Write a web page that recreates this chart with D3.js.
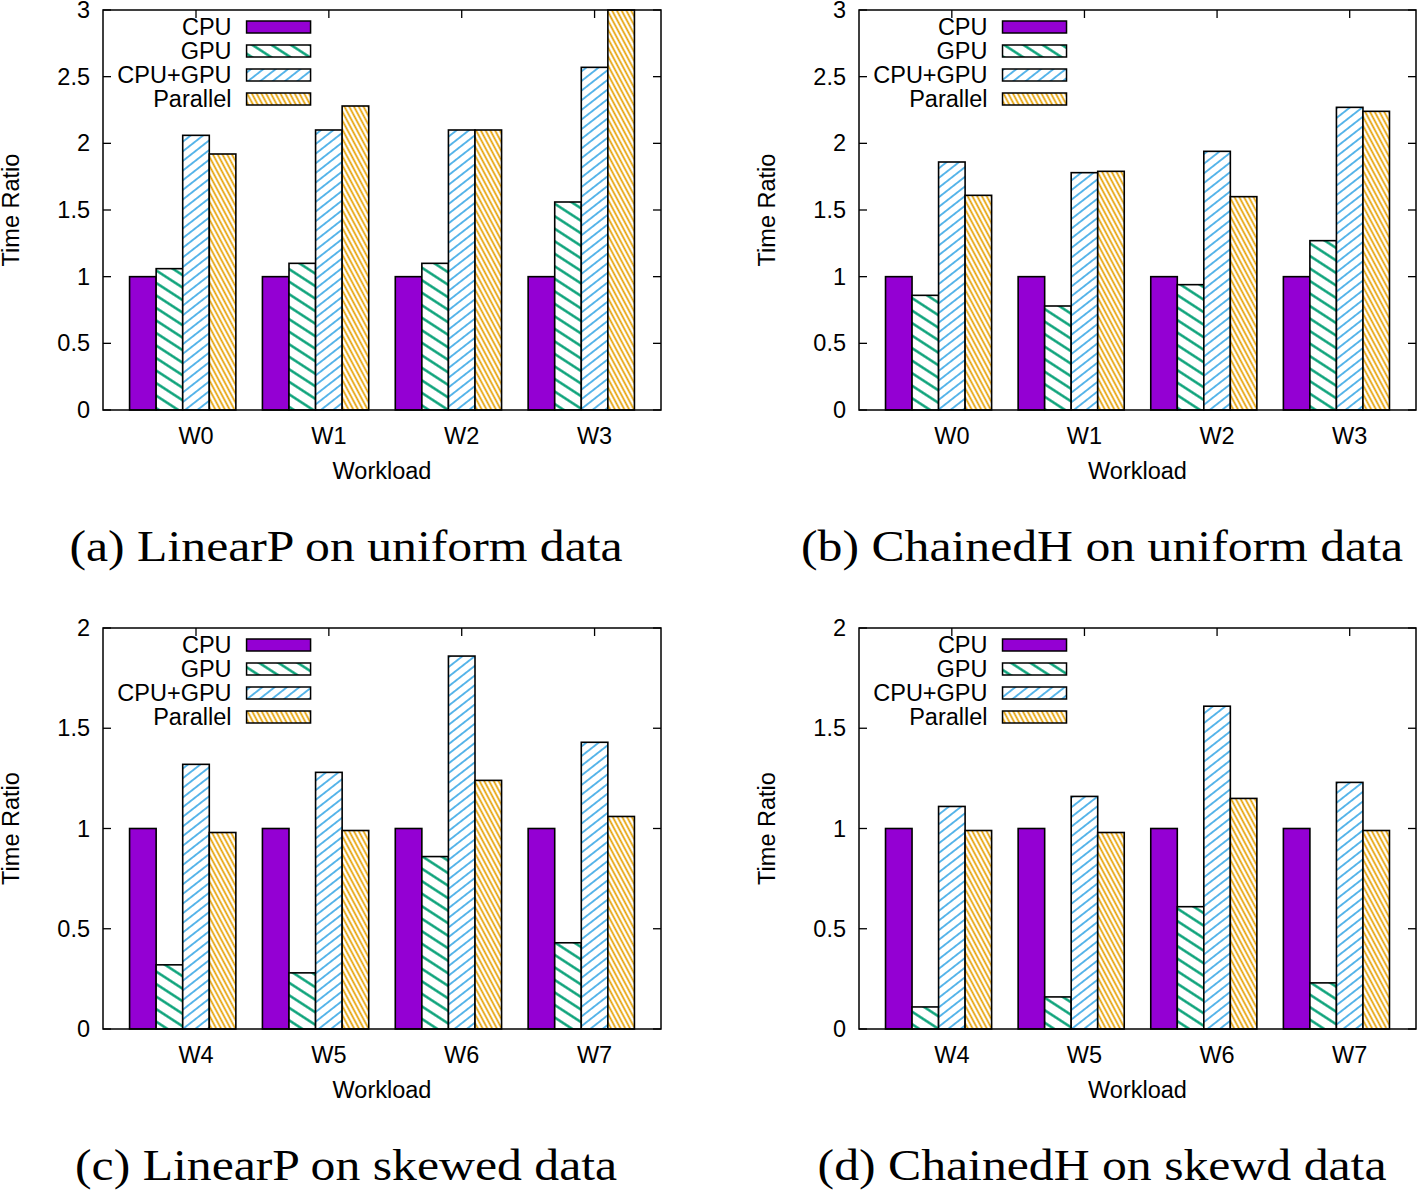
<!DOCTYPE html>
<html>
<head>
<meta charset="utf-8">
<script src="https://cdn.jsdelivr.net/npm/d3@7"></script>
<style>
  html, body { margin: 0; padding: 0; background: #fff; }
  svg { display: block; }
</style>
</head>
<body>
<svg id="chart" width="1418" height="1191"></svg>
<script>
// ---------- DATA ----------
const seriesNames = ["CPU", "GPU", "CPU+GPU", "Parallel"];
const workloadsTop = ["W0", "W1", "W2", "W3"];
const workloadsBottom = ["W4", "W5", "W6", "W7"];
const yTicksTop = [0, 0.5, 1, 1.5, 2, 2.5, 3];
const yTicksBottom = [0, 0.5, 1, 1.5, 2];
const captions = [
  "(a) LinearP on uniform data",
  "(b) ChainedH on uniform data",
  "(c) LinearP on skewed data",
  "(d) ChainedH on skewd data"
];
// rows: CPU, GPU, CPU+GPU, Parallel ; columns: workloads
const linearPUniform = [
  [1, 1, 1, 1],
  [1.06, 1.10, 1.10, 1.56],
  [2.06, 2.10, 2.10, 2.57],
  [1.92, 2.28, 2.10, 3.00]
];
const chainedHUniform = [
  [1, 1, 1, 1],
  [0.86, 0.78, 0.94, 1.27],
  [1.86, 1.78, 1.94, 2.27],
  [1.61, 1.79, 1.60, 2.24]
];
const linearPSkewed = [
  [1, 1, 1, 1],
  [0.32, 0.28, 0.86, 0.43],
  [1.32, 1.28, 1.86, 1.43],
  [0.98, 0.99, 1.24, 1.06]
];
const chainedHSkewed = [
  [1, 1, 1, 1],
  [0.11, 0.16, 0.61, 0.23],
  [1.11, 1.16, 1.61, 1.23],
  [0.99, 0.98, 1.15, 0.99]
];

// ---------- STYLE ----------
const colors = ["#9400d3", "#009e73", "#56b4e9", "#e69f00"];
const sansFont = "'Liberation Sans', Arial, Helvetica, sans-serif";
const serifFont = "'Liberation Serif', 'Times New Roman', serif";

const svg = d3.select("#chart");
const defs = svg.append("defs");

function hatch(id, color, angle, spacing, width) {
  const p = defs.append("pattern")
    .attr("id", id)
    .attr("patternUnits", "userSpaceOnUse")
    .attr("width", 40)
    .attr("height", spacing)
    .attr("patternTransform", `rotate(${angle})`);
  p.append("rect").attr("width", 40).attr("height", spacing).attr("fill", "#fff");
  p.append("line")
    .attr("x1", 0).attr("x2", 40)
    .attr("y1", spacing / 2).attr("y2", spacing / 2)
    .attr("stroke", color).attr("stroke-width", width);
}
hatch("pGPU", colors[1], 33, 10.5, 2.2);
hatch("pBoth", colors[2], -38, 7.6, 2.0);
hatch("pPar", colors[3], 62, 4.2, 1.8);
const fills = [colors[0], "url(#pGPU)", "url(#pBoth)", "url(#pPar)"];

const panels = [
  { data: linearPUniform, cats: workloadsTop, ticks: yTicksTop, ymax: 3, left: 103, right: 661, top: 10, bottom: 410, cap: captions[0] },
  { data: chainedHUniform, cats: workloadsTop, ticks: yTicksTop, ymax: 3, left: 859, right: 1416, top: 10, bottom: 410, cap: captions[1] },
  { data: linearPSkewed, cats: workloadsBottom, ticks: yTicksBottom, ymax: 2, left: 103, right: 661, top: 628, bottom: 1029, cap: captions[2] },
  { data: chainedHSkewed, cats: workloadsBottom, ticks: yTicksBottom, ymax: 2, left: 859, right: 1416, top: 628, bottom: 1029, cap: captions[3] }
];

panels.forEach(P => {
  const g = svg.append("g");
  const nS = seriesNames.length;
  const groupW = nS + 1;
  // one empty bar-unit before the first group, one gap unit after each group
  const x = d3.scaleLinear().domain([-1, P.cats.length * groupW]).range([P.left, P.right]);
  const y = d3.scaleLinear().domain([0, P.ymax]).range([P.bottom, P.top]);
  const barStart = x(0);

  // ticks (inward, mirrored)
  const tickLen = 8;
  P.ticks.forEach(t => {
    g.append("line").attr("x1", P.left).attr("x2", P.left + tickLen)
      .attr("y1", y(t)).attr("y2", y(t)).attr("stroke", "#000").attr("stroke-width", 1.3);
    g.append("line").attr("x1", P.right).attr("x2", P.right - tickLen)
      .attr("y1", y(t)).attr("y2", y(t)).attr("stroke", "#000").attr("stroke-width", 1.3);
    g.append("text").attr("x", P.left - 13).attr("y", y(t))
      .attr("text-anchor", "end").attr("dominant-baseline", "central")
      .attr("font-family", sansFont).attr("font-size", 23.5).text(d3.format("~g")(t));
  });
  P.cats.forEach((c, i) => {
    const cx = x(i * groupW + nS / 2 + 0.5);
    g.append("line").attr("x1", cx).attr("x2", cx).attr("y1", P.top).attr("y2", P.top + tickLen)
      .attr("stroke", "#000").attr("stroke-width", 1.3);
    g.append("line").attr("x1", cx).attr("x2", cx).attr("y1", P.bottom).attr("y2", P.bottom - tickLen)
      .attr("stroke", "#000").attr("stroke-width", 1.3);
    g.append("text").attr("x", cx).attr("y", P.bottom + 34)
      .attr("text-anchor", "middle")
      .attr("font-family", sansFont).attr("font-size", 23.5).text(c);
  });

  // bars
  P.data.forEach((vals, s) => {
    g.selectAll(null).data(vals).enter().append("rect")
      .attr("x", (d, i) => x(i * groupW + s))
      .attr("width", x(1) - x(0))
      .attr("y", d => y(d))
      .attr("height", d => y(0) - y(d))
      .attr("fill", fills[s])
      .attr("stroke", "#000").attr("stroke-width", 1.6);
  });

  // frame
  g.append("rect").attr("x", P.left).attr("y", P.top)
    .attr("width", P.right - P.left).attr("height", P.bottom - P.top)
    .attr("fill", "none").attr("stroke", "#000").attr("stroke-width", 1.5);

  // legend
  seriesNames.forEach((name, s) => {
    const cy = P.top + 17 + s * 24;
    g.append("text").attr("x", barStart + 102).attr("y", cy)
      .attr("text-anchor", "end").attr("dominant-baseline", "central")
      .attr("font-family", sansFont).attr("font-size", 23.5).text(name);
    g.append("rect").attr("x", barStart + 117).attr("y", cy - 6)
      .attr("width", 64).attr("height", 12)
      .attr("fill", fills[s]).attr("stroke", "#000").attr("stroke-width", 1.5);
  });

  // axis titles
  g.append("text").attr("transform", `translate(${P.left - 92},${(P.top + P.bottom) / 2}) rotate(-90)`)
    .attr("text-anchor", "middle").attr("dominant-baseline", "central")
    .attr("font-family", sansFont).attr("font-size", 23.5).text("Time Ratio");
  g.append("text").attr("x", (P.left + P.right) / 2).attr("y", P.bottom + 69)
    .attr("text-anchor", "middle")
    .attr("font-family", sansFont).attr("font-size", 23.5).text("Workload");

  // caption
  const cap = g.append("text").attr("x", barStart + 216.5).attr("y", P.bottom + 151)
    .attr("text-anchor", "middle")
    .attr("font-family", serifFont).attr("font-size", 44).text(P.cap);
  const w = cap.node().getComputedTextLength();
  cap.attr("textLength", w * 1.13).attr("lengthAdjust", "spacingAndGlyphs");
});
</script>
</body>
</html>
